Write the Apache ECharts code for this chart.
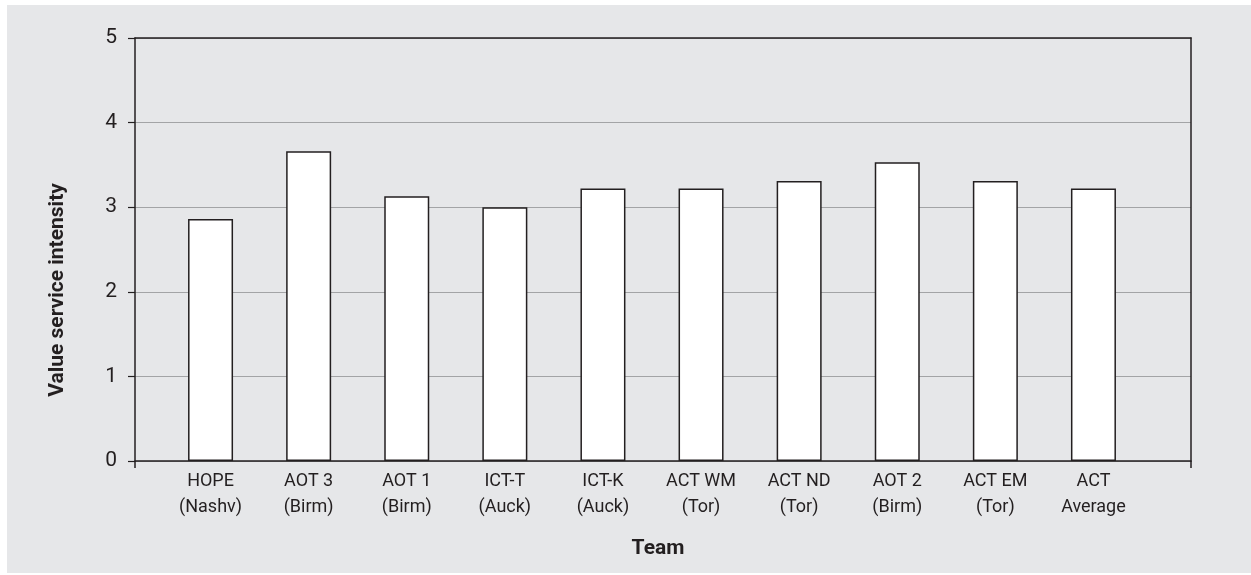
<!DOCTYPE html>
<html>
<head>
<meta charset="utf-8">
<script src="https://cdn.jsdelivr.net/npm/echarts@6/dist/echarts.min.js"></script>
<style>
  html, body { margin: 0; padding: 0; background: #ffffff; }
  #panel { position: absolute; left: 7px; top: 5px; width: 1244px; height: 568px; background: #e6e7e9; }
  #chart { position: absolute; left: 0; top: 0; width: 1251px; height: 575px; }
</style>
</head>
<body>
<div id="panel"></div>
<div id="chart"></div>
<script>
// Teams shown along the horizontal axis
const teams = [
  'HOPE\n(Nashv)', 'AOT 3\n(Birm)', 'AOT 1\n(Birm)', 'ICT-T\n(Auck)', 'ICT-K\n(Auck)',
  'ACT WM\n(Tor)', 'ACT ND\n(Tor)', 'AOT 2\n(Birm)', 'ACT EM\n(Tor)', 'ACT\nAverage'
];
// Mean value service intensity per team
const intensity = [2.86, 3.66, 3.13, 3.00, 3.22, 3.22, 3.31, 3.53, 3.31, 3.22];
// Value axis range
const yMin = 0, yMax = 5, yStep = 1;

const FONT = "Roboto, 'Liberation Sans', Arial, sans-serif";
const INK = '#231f20';

const chart = echarts.init(document.getElementById('chart'), null, { renderer: 'canvas' });

chart.setOption({
  backgroundColor: 'transparent',
  animation: false,
  textStyle: { fontFamily: FONT, color: INK },
  grid: [
    // plot frame with value axis
    { left: 135, right: 60, top: 38, bottom: 114 },
    // band area holding the bars
    { left: 161.5, width: 981, top: 38, bottom: 114 }
  ],
  xAxis: [
    {
      gridIndex: 0, type: 'value', min: 0, max: 1, interval: 1,
      axisLine: { show: true, onZero: false, lineStyle: { color: INK, width: 1.5 } },
      axisTick: { show: true, length: 7, lineStyle: { color: INK, width: 1.5 } },
      axisLabel: { show: false }, splitLine: { show: false }
    },
    {
      gridIndex: 0, type: 'value', position: 'top', min: 0, max: 1,
      axisLine: { show: true, onZero: false, lineStyle: { color: INK, width: 1.5 } },
      axisTick: { show: false }, axisLabel: { show: false }, splitLine: { show: false },
      z: 10
    },
    {
      gridIndex: 1, type: 'category', data: teams,
      axisLine: { show: false }, axisTick: { show: false },
      axisLabel: {
        fontFamily: FONT, fontSize: 18, color: INK, lineHeight: 26, margin: 7,
        interval: 0
      }
    }
  ],
  yAxis: [
    {
      gridIndex: 0, type: 'value', min: yMin, max: yMax, interval: yStep,
      axisLine: { show: true, onZero: false, lineStyle: { color: INK, width: 1.5 } },
      axisTick: { show: true, length: 7, lineStyle: { color: INK, width: 1.2 } },
      axisLabel: { fontFamily: FONT, fontSize: 21, color: INK, margin: 18 },
      splitLine: { show: true, lineStyle: { color: '#a3a4a6', width: 1.2 } }
    },
    {
      gridIndex: 0, type: 'value', position: 'right', min: yMin, max: yMax,
      axisLine: { show: true, onZero: false, lineStyle: { color: INK, width: 1.5 } },
      axisTick: { show: false }, axisLabel: { show: false }, splitLine: { show: false }
    },
    {
      gridIndex: 1, type: 'value', min: yMin, max: yMax, interval: yStep,
      axisLine: { show: false }, axisTick: { show: false },
      axisLabel: { show: false }, splitLine: { show: false }
    }
  ],
  series: [
    {
      type: 'bar', xAxisIndex: 2, yAxisIndex: 2,
      data: intensity, barWidth: 45,
      itemStyle: { color: '#ffffff', borderColor: INK, borderWidth: 1.5 },
      z: 5
    }
  ],
  graphic: [
    {
      type: 'text', x: 58, y: 290, rotation: Math.PI / 2,
      style: {
        text: 'Value service intensity', fontFamily: FONT, fontSize: 21,
        fontWeight: 'bold', fill: INK, align: 'center', verticalAlign: 'middle'
      }
    },
    {
      type: 'text', x: 658, y: 549,
      style: {
        text: 'Team', fontFamily: FONT, fontSize: 21,
        fontWeight: 'bold', fill: INK, align: 'center', verticalAlign: 'middle'
      }
    }
  ]
});
</script>
</body>
</html>
